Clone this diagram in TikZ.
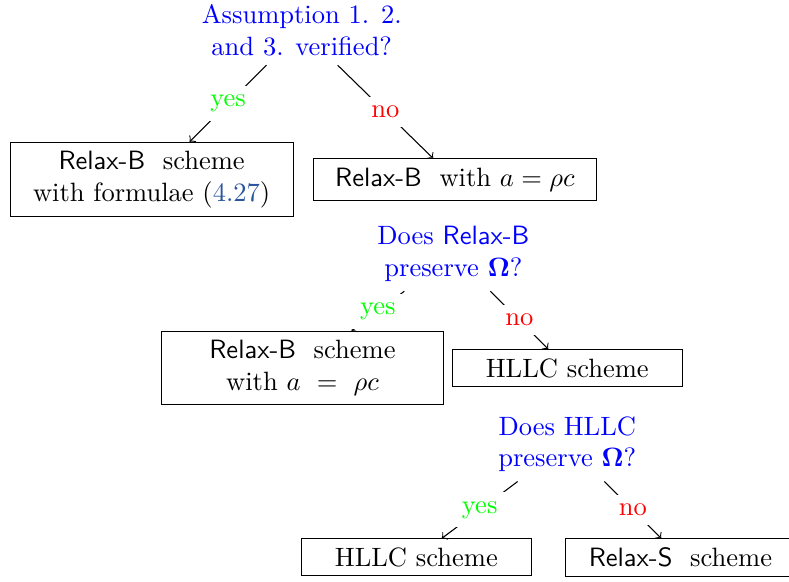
\documentclass[tikz,border=0pt]{standalone}
\usepackage{amsmath}
\usepackage{tikz}

\definecolor{linkblue}{rgb}{0.16,0.33,0.62}
\newcommand{\RelaxB}{\textsf{Relax-B}\ }

\begin{document}
\begin{tikzpicture}[>=to,
		question/.style={blue,align=center},
		scheme/.style={draw,align=center,minimum width=3.75cm},
		shortscheme/.style={draw,align=center,minimum width=3.05cm},
		yeslbl/.style={green,fill=white},
		nolbl/.style={red,fill=white}]
		\useasboundingbox (0,0) rectangle (10.46,-7.71);

		% questions
		\node[question] (q1) at (4.0,-0.40) {Assumption 1. 2.\\ and 3. verified?};
		\node[question] (q2) at (6.01,-3.37) {Does \textsf{Relax-B}\\ preserve $\boldsymbol{\Omega}$?};
		\node[question] (q3) at (7.52,-5.89) {Does HLLC\\ preserve $\boldsymbol{\Omega}$?};

		% schemes
		\node[scheme] (a1) at (2.01,-2.38) {\RelaxB{} scheme\\ with formulae (\textcolor{linkblue}{4.27})};
		\node[scheme] (a2) at (6.03,-2.38) {\RelaxB{} with $a = \rho c$};
		\node[scheme] (b1) at (4.01,-4.88) {\RelaxB{} scheme\\ with $a\ =\ \rho c$};
		\node[shortscheme] (b2) at (7.52,-4.88) {HLLC scheme};
		\node[shortscheme] (c1) at (5.52,-7.39) {HLLC scheme};
		\node[shortscheme] (c2) at (9.02,-7.39) {\textsf{Relax-S}\ \ scheme};

		\foreach \q/\y/\n in {q1/a1/a2, q2/b1/b2, q3/c1/c2}
		{
			\draw[->] (\q) -- node[yeslbl] (\q-yes) {yes} (\y);
			\draw[->] (\q) -- node[nolbl] (\q-no) {no} (\n);
		}
	\end{tikzpicture}
\end{document}
